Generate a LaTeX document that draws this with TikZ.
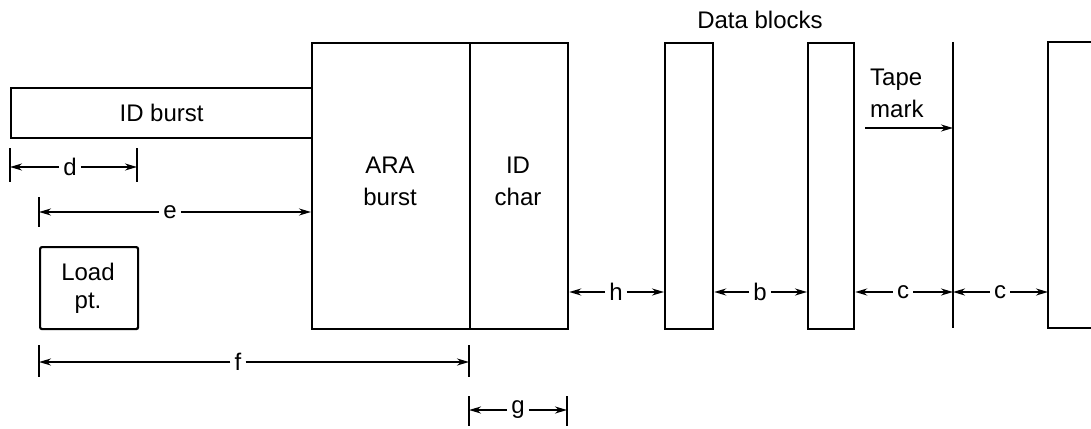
\documentclass[tikz,border=0pt]{standalone}
\usepackage{fontspec}
\setmainfont{Liberation Sans}
\usetikzlibrary{positioning}
\usetikzlibrary{arrows.meta}

\begin{document}
\begin{tikzpicture}[x=1pt, y=-1pt, font=\fontsize{24}{28}\selectfont,
    box/.style={draw, line width=2.2pt, inner sep=0pt, anchor=north west},
    dim/.style={line width=1.8pt, -{Stealth[length=12pt, width=7pt]}},
    tick/.style={line width=2pt},
    lab/.style={inner sep=4pt, fill=white},
    twoline/.style={align=center, font=\fontsize{24}{32}\selectfont}]

    \useasboundingbox (0,0) rectangle (1091,428);

    % tape blocks
    \node[box, minimum width=301pt, minimum height=50pt] (idb) at (10,87) {ID burst};
    \node[box, minimum width=158pt, minimum height=286pt] (ara) at (311,42) {};
    \node[box, minimum width=98pt, minimum height=286pt] (idc) at (469,42) {};
    \node[box, minimum width=48pt, minimum height=286pt] (blk1) at (664,42) {};
    \node[box, minimum width=46pt, minimum height=286pt] (blk2) at (807,42) {};
    \node[box, minimum width=98pt, minimum height=82pt, rounded corners=2pt] (load) at (39,246) {};
    \draw[line width=2.2pt] (1091,42) -- (1048,42) -- (1048,328) -- (1091,328);
    \coordinate (tmtop) at (953,42);
    \coordinate (tmbot) at (953,328);
    \draw[line width=2.2pt] (tmtop) -- (tmbot);

    \node[twoline] (aralab) at (390,181) {ARA\\burst};
    \node[twoline] (idclab) at (518,181) {ID\\char};
    \node[align=center, font=\fontsize{24}{28}\selectfont] (loadlab) at (88,288) {Load\\pt.};
    \node (datalab) at (760,20) {Data blocks};
    \node[twoline, align=left, anchor=north west, inner sep=0pt] (tmlab) at (870,69) {Tape\\mark};
    \coordinate (tmarr) at (865,128);
    \draw[dim] (tmarr) -- (tmarr -| tmtop);

    % dimension d
    \coordinate (d1) at (10,167);
    \coordinate (d2) at (137,167);
    \draw[tick] (10,148) -- (10,182);
    \draw[tick] (137,148) -- (137,182);
    \node[lab] (dlab) at (70,167) {d};
    \draw[dim] (dlab) -- (d1);
    \draw[dim] (dlab) -- (d2);

    % dimension e
    \coordinate (e1) at (39,212);
    \draw[tick] (39,197) -- (39,227);
    \node[lab] (elab) at (170,212) {e};
    \draw[dim] (elab) -- (e1);
    \draw[dim] (elab) -- (elab -| ara.west);

    % dimension f
    \coordinate (f1) at (39,362);
    \coordinate (f2) at (469,362);
    \draw[tick] (39,345) -- (39,377);
    \draw[tick] (469,345) -- (469,377);
    \node[lab] (flab) at (238,362) {f};
    \draw[dim] (flab) -- (f1);
    \draw[dim] (flab) -- (f2);

    % dimension g
    \coordinate (g1) at (469,410);
    \coordinate (g2) at (567,410);
    \draw[tick] (469,396) -- (469,426);
    \draw[tick] (567,396) -- (567,426);
    \node[lab] (glab) at (518,410) {g};
    \draw[dim] (glab) -- (g1);
    \draw[dim] (glab) -- (g2);

    % gaps between blocks
    \node[lab] (hlab) at (616,292) {h};
    \draw[dim] (hlab) -- (hlab -| idc.east);
    \draw[dim] (hlab) -- (hlab -| blk1.west);
    \node[lab] (blab) at (760,292) {b};
    \draw[dim] (blab) -- (blab -| blk1.east);
    \draw[dim] (blab) -- (blab -| blk2.west);
    \node[lab] (c1lab) at (903,292) {c};
    \draw[dim] (c1lab) -- (c1lab -| blk2.east);
    \draw[dim] (c1lab) -- (c1lab -| tmtop);
    \node[lab] (c2lab) at (1000,292) {c};
    \draw[dim] (c2lab) -- (c2lab -| tmtop);
    \draw[dim] (c2lab) -- (1048,292);
\end{tikzpicture}
\end{document}
